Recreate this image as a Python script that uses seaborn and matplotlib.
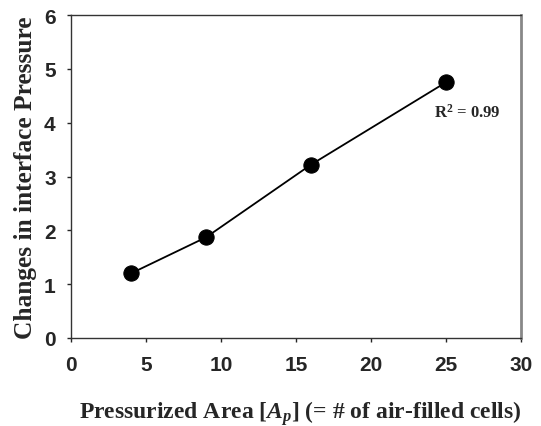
import matplotlib
matplotlib.use("Agg")
import matplotlib.pyplot as plt
import seaborn as sns
import pandas as pd

area = [4, 9, 16, 25]
pressure = [1.2, 1.87, 3.22, 4.75]
x_ticks = [0, 5, 10, 15, 20, 25, 30]
y_ticks = [0, 1, 2, 3, 4, 5, 6]

sns.set_theme(style="ticks")
plt.rcParams['font.family'] = ['Liberation Sans', 'DejaVu Sans']
plt.rcParams['mathtext.fontset'] = 'custom'
plt.rcParams['mathtext.rm'] = 'Liberation Serif:bold'
plt.rcParams['mathtext.it'] = 'Liberation Serif:italic:bold'
plt.rcParams['mathtext.bf'] = 'Liberation Serif:bold'

df = pd.DataFrame({"area": area, "pressure": pressure})

fig = plt.figure(figsize=(5.41, 4.27), dpi=100)
ax = fig.add_axes([71/541, 1 - 339/427, 450/541, 323/427])
sns.lineplot(data=df, x="area", y="pressure", ax=ax, color="black", linewidth=1.3,
             marker="o", markersize=11, markeredgecolor="black", markerfacecolor="black")
ax.set_xlim(0, 30)
ax.set_ylim(0, 6)
ax.set_xticks(x_ticks)
ax.set_yticks(y_ticks)
ax.tick_params(direction="out", length=3, width=1, labelsize=15)
ax.tick_params(axis="x", pad=9.5)
ax.tick_params(axis="y", pad=8)
for lab in ax.get_xticklabels() + ax.get_yticklabels():
    lab.set_fontweight("bold")
for s in ax.spines.values():
    s.set_visible(True)
    s.set_color("#333333")
    s.set_linewidth(1)
ax.spines["right"].set_color("#888888")
ax.spines["right"].set_linewidth(2)

serif = ['Liberation Serif', 'DejaVu Serif']
ax.set_xlabel(r"Pressurized Area [$\mathit{A_p}$] (= # of air-filled cells)",
              fontfamily=serif, fontweight="bold", fontsize=17)
ax.xaxis.set_label_coords(0.5 + 4/450, -60/323)
ax.set_ylabel("Changes in interface Pressure", fontfamily=serif, fontweight="bold",
              fontsize=18.3, labelpad=5)
ax.text(24.2, 4.12, r"R$^{\mathbf{2}}$ = 0.99", fontfamily=serif, fontweight="bold", fontsize=12)

fig.savefig("out.png", dpi=100)
